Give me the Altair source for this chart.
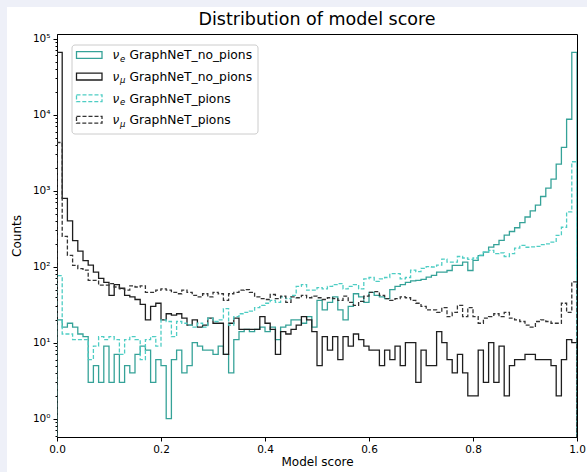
import altair as alt
import pandas as pd

# ---------------- data (counts per bin, 100 bins of width 0.01 on [0, 1]) ----------------
bin_width = 0.01

e_no_pions = [20, 16, 18, 16, 13, 12, 3, 5, 3, 9,
              3, 7, 3, 5, 4, 7, 9, 8, 3, 6,
              5, 1, 6, 8, 4, 5, 10, 9, 8, 8,
              7, 9, 7, 4, 11, 14, 15, 14, 15, 16,
              14, 16, 11, 16, 17, 20, 20, 18, 22, 16,
              36, 27, 34, 40, 27, 20, 30, 44, 40, 34,
              46, 42, 40, 38, 50, 55, 58, 62, 65, 66,
              68, 73, 77, 85, 85, 89, 104, 104, 115, 89,
              121, 140, 155, 181, 195, 222, 260, 290, 325, 380,
              450, 542, 646, 838, 1080, 1420, 2230, 3710, 8700, 66000]

mu_no_pions = [66000, 790, 400, 220, 160, 120, 105, 85, 70, 62,
               42, 58, 52, 42, 40, 37, 32, 20, 30, 33,
               20, 24, 23, 24, 21, 17, 20, 16, 17, 21,
               18, 18, 7, 18, 21, 15, 15, 15, 15, 22,
               18, 15, 7, 14, 13, 15, 17, 22, 20, 14,
               5, 12, 8, 12, 6, 12, 9, 13, 11, 9,
               8, 8, 5, 8, 6, 9, 5, 10, 10, 3,
               8, 5, 5, 14, 10, 6, 4, 7, 4, 2,
               2, 8, 3, 10, 3, 9, 2, 5, 6, 6,
               7, 7, 6, 6, 6, 5, 2, 6, 11, 10]

e_pions = [76, 13, 13, 11, 11, 11, 6, 9, 12, 11,
           12, 11, 7, 11, 12, 11, 6, 11, 12, 9,
           20, 19, 12, 19, 18, 17, 16, 18, 16, 21,
           19, 20, 28, 17, 22, 24, 25, 26, 29, 31,
           33, 36, 34, 40, 38, 42, 55, 58, 49, 49,
           53, 51, 55, 58, 60, 51, 55, 58, 51, 69,
           72, 64, 69, 72, 81, 81, 69, 72, 90, 86,
           95, 100, 99, 105, 126, 115, 115, 136, 130, 125,
           130, 142, 155, 164, 148, 152, 136, 148, 175, 191,
           180, 182, 185, 195, 200, 210, 258, 330, 525, 2400]

mu_pions = [4300, 250, 141, 104, 94, 90, 66, 66, 57, 57,
            60, 54, 51, 49, 56, 54, 56, 46, 46, 49,
            51, 49, 46, 44, 49, 46, 42, 40, 44, 40,
            46, 44, 36, 44, 46, 49, 50, 46, 40, 38,
            37, 43, 38, 41, 34, 40, 39, 42, 39, 41,
            39, 37, 39, 38, 36, 41, 34, 31, 35, 41,
            46, 47, 42, 38, 36, 38, 40, 39, 36, 33,
            30, 27, 27, 25, 29, 22, 25, 31, 22, 29,
            22, 18, 21, 22, 24, 22, 25, 21, 20, 19,
            17, 16, 19, 20, 19, 18, 18, 33, 25, 63]

series_names = ["e_no_pions", "mu_no_pions", "e_pions", "mu_pions"]
series_counts = [e_no_pions, mu_no_pions, e_pions, mu_pions]
series_colors = ["#35a298", "#1e1e1e", "#4ecdc4", "#333333"]
series_dashes = [[1, 0], [1, 0], [4, 2], [4, 2]]
legend_flavours = ["e", "μ", "e", "μ"]
legend_texts = ["GraphNeT_no_pions", "GraphNeT_no_pions", "GraphNeT_pions", "GraphNeT_pions"]
title_text = ["Distribution of model score"]

x_ticks = [0.0, 0.2, 0.4, 0.6, 0.8, 1.0]
Y_MIN, Y_MAX = 10 ** -0.241, 10 ** 5.061
y_ticks = [m * 10.0 ** k for k in range(-1, 6) for m in range(1, 10)
           if Y_MIN <= m * 10.0 ** k <= Y_MAX]

FONT = "DejaVu Sans"
IS_MAJOR = "abs(log(datum.value)/LN10 - round(log(datum.value)/LN10)) < 0.001"


def step_frame(name, counts):
    rows = [{"series": name, "x": 0.0, "count": Y_MIN, "ord": 0}]
    for i, c in enumerate(counts):
        rows.append({"series": name, "x": round(i * bin_width, 4), "count": c, "ord": i + 1})
    rows.append({"series": name, "x": 1.0, "count": counts[-1], "ord": len(counts) + 1})
    rows.append({"series": name, "x": 1.0, "count": Y_MIN, "ord": len(counts) + 2})
    return pd.DataFrame(rows)


x_enc = alt.X("x:Q",
              scale=alt.Scale(domain=[0, 1], nice=False, zero=False),
              axis=alt.Axis(values=x_ticks, format=".1f", title="Model score",
                            labelFlush=False, grid=False, tickSize=4,
                            labelPadding=3, titlePadding=2))
y_enc = alt.Y("count:Q",
              scale=alt.Scale(type="log", domain=[Y_MIN, Y_MAX], nice=False),
              axis=alt.Axis(values=y_ticks, title="Counts", grid=False,
                            labelExpr=IS_MAJOR + " ? '10' + ['⁰','¹','²','³','⁴','⁵'][round(log(datum.value)/LN10)] : ''",
                            labelOverlap=False, labelBound=False,
                            tickSize={"condition": {"test": IS_MAJOR, "value": 4}, "value": 2},
                            labelPadding=3, titlePadding=9))

legend_df = pd.DataFrame({"flavour": legend_flavours, "text": legend_texts})
title_df = pd.DataFrame({"title": title_text})

# page margin: thin lavender strips along the top and left edges of the picture
layers = [
    alt.Chart(title_df).mark_rect(fill="#eef0f8", clip=False)
    .encode(x=alt.value(-57), x2=alt.value(530), y=alt.value(-34), y2=alt.value(-27)),
    alt.Chart(title_df).mark_rect(fill="#eef0f8", clip=False)
    .encode(x=alt.value(-57), x2=alt.value(-50), y=alt.value(-34), y2=alt.value(438)),
    # chart title, centred over the axes
    alt.Chart(title_df).mark_text(font=FONT, fontSize=17.5, color="black",
                                  align="center", baseline="middle", clip=False)
    .encode(x=alt.value(260), y=alt.value(-14), text="title:N"),
]

for name, counts, color, dash in zip(series_names, series_counts, series_colors, series_dashes):
    layers.append(
        alt.Chart(step_frame(name, counts))
        .mark_line(interpolate="step-after", color=color, strokeDash=dash,
                   strokeWidth=1.3, clip=True)
        .encode(x=x_enc, y=y_enc, order=alt.Order("ord:Q"))
    )

# ---------------- legend (upper left, inside the axes) ----------------
box = alt.Chart(legend_df.head(1)).mark_rect(
    fill="white", fillOpacity=0.8, stroke="#cccccc", strokeWidth=1, cornerRadius=3
).encode(x=alt.value(15), x2=alt.value(201), y=alt.value(11), y2=alt.value(100))
layers.append(box)

row_step = 21.6
for i, (flav, txt, color, dash) in enumerate(zip(legend_flavours, legend_texts,
                                                 series_colors, series_dashes)):
    yc = 21 + row_step * i
    one = legend_df.iloc[[i]]
    layers.append(alt.Chart(one).mark_rect(fill=None, stroke=color, strokeDash=dash,
                                           strokeWidth=1.3)
                  .encode(x=alt.value(19.5), x2=alt.value(45), y=alt.value(yc - 3.4),
                          y2=alt.value(yc + 3.4)))
    layers.append(alt.Chart(one).mark_text(align="left", baseline="alphabetic", font=FONT,
                                           fontSize=12, fontStyle="italic", color="black")
                  .encode(x=alt.value(55.5), y=alt.value(yc + 4.3), text=alt.value("ν")))
    layers.append(alt.Chart(one).mark_text(align="left", baseline="alphabetic", font=FONT,
                                           fontSize=8.5, fontStyle="italic", color="black")
                  .encode(x=alt.value(63), y=alt.value(yc + 6.8), text="flavour:N"))
    layers.append(alt.Chart(one).mark_text(align="left", baseline="alphabetic", font=FONT,
                                           fontSize=12.3, color="black")
                  .encode(x=alt.value(72.5), y=alt.value(yc + 4.3), text="text:N"))

chart = (
    alt.layer(*layers)
    .properties(
        width=520, height=403,
        autosize=alt.AutoSizeParams(type="none"),
        padding={"left": 57, "top": 34, "right": 10, "bottom": 35},
        background="white",
    )
    .configure_view(stroke="black", strokeWidth=1)
    .configure_axis(labelFont=FONT, titleFont=FONT, labelFontSize=10.5, titleFontSize=12,
                    titleFontWeight="normal", labelColor="black", titleColor="black",
                    domainColor="black", tickColor="black", domainWidth=1, tickWidth=1)
)

chart.save("out.html", embed_options={"renderer": "svg", "actions": False})
